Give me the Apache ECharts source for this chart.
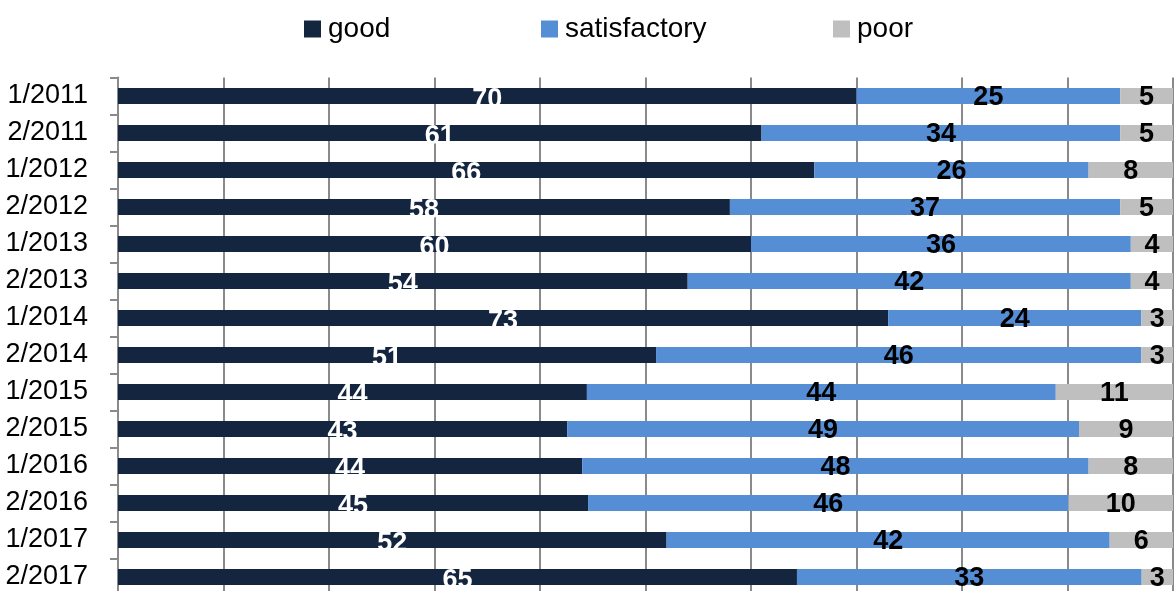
<!DOCTYPE html>
<html>
<head>
<meta charset="utf-8">
<script src="https://cdn.jsdelivr.net/npm/echarts@6/dist/echarts.min.js"></script>
<style>
html,body{margin:0;padding:0;background:#fff;}
#chart{width:1176px;height:591px;}
</style>
</head>
<body>
<div id="chart"></div>
<script>
var categories = ['1/2011','2/2011','1/2012','2/2012','1/2013','2/2013','1/2014','2/2014','1/2015','2/2015','1/2016','2/2016','1/2017','2/2017'];
var good = [70,61,66,58,60,54,73,51,44,43,44,45,52,65];
var satisfactory = [25,34,26,37,36,42,24,46,44,49,48,46,42,33];
var poor = [5,5,8,5,4,4,3,3,11,9,8,10,6,3];
var seriesNames = ['good','satisfactory','poor'];
var seriesColors = ['#13253f','#558ed5','#bfbfbf'];
var labelColors = ['#ffffff','#000000','#000000'];
var labelOffsets = [[0,4],[0,2],[0,2]];
var legendLefts = [304, 541, 833];

var FONT = '"Liberation Sans Narrow", "Liberation Sans", Arial, sans-serif';
var all = [good, satisfactory, poor];
var totals = categories.map(function(_, i){ return good[i] + satisfactory[i] + poor[i]; });

var series = all.map(function(arr, s){
  return {
    name: seriesNames[s],
    type: 'bar',
    stack: 'total',
    barWidth: 16,
    itemStyle: { color: seriesColors[s] },
    label: {
      show: true,
      position: 'inside',
      color: labelColors[s],
      fontFamily: FONT,
      fontWeight: 'bold',
      fontSize: 27,
      offset: labelOffsets[s],
      formatter: function(p){ return arr[p.dataIndex]; }
    },
    data: arr.map(function(v, i){ return v / totals[i] * 100; })
  };
});

var legends = seriesNames.map(function(n, s){
  return {
    data: [n],
    left: legendLefts[s],
    top: 15,
    padding: 0,
    itemWidth: 17,
    itemHeight: 17,
    icon: 'rect',
    textStyle: { fontFamily: FONT, fontSize: 28, color: '#000', padding: [0,0,0,2] }
  };
});

var chart = echarts.init(document.getElementById('chart'), null, {renderer:'canvas'});
chart.setOption({
  animation: false,
  backgroundColor: '#ffffff',
  legend: legends,
  grid: { left: 118, right: 3, top: 77.5, bottom: -4.5, containLabel: false, outerBoundsMode: 'none' },
  xAxis: {
    type: 'value',
    min: 0, max: 100, interval: 10,
    axisLabel: { show: false },
    axisLine: { show: false },
    axisTick: { show: false },
    splitLine: { show: true, lineStyle: { color: '#8a8a8a', width: 2 } }
  },
  yAxis: {
    type: 'category',
    inverse: true,
    data: categories,
    axisLine: { show: true, lineStyle: { color: '#8a8a8a', width: 2 } },
    axisTick: { show: true, length: 8, lineStyle: { color: '#8a8a8a', width: 2 } },
    axisLabel: { interval: 0, fontFamily: FONT, fontSize: 27, color: '#000', margin: 30 }
  },
  series: series
});
</script>
</body>
</html>
